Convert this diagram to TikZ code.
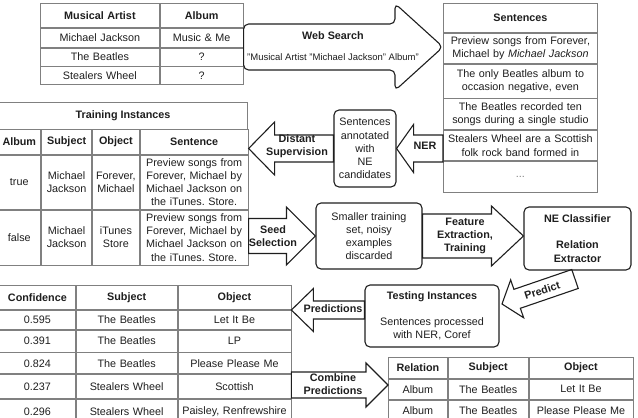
\documentclass[tikz,border=0pt]{standalone}
\usepackage{fontspec}
\setmainfont{Liberation Sans}
\usepackage{xcolor}
\usepackage{tikz}
\usetikzlibrary{calc, matrix, positioning}
\definecolor{gridgray}{RGB}{128,128,128}
\definecolor{ink}{RGB}{30,30,30}
\newcommand{\tabfont}{\fontsize{10.8}{13.2}\selectfont}
\frenchspacing

\begin{document}
\begin{tikzpicture}[
    x=1pt, y=-1pt,
    cell/.style={
      draw=gridgray, line width=0.8pt,
      inner xsep=2pt, inner ysep=1pt, outer sep=0pt,
      align=center, anchor=center,
      font=\tabfont, text=ink
    },
    head/.style={font=\tabfont\bfseries},
    grid/.style={
      matrix of nodes, inner sep=0pt, outer sep=0pt,
      column sep=0pt, row sep=0pt,
      nodes={cell}
    },
    box/.style={
      rectangle, rounded corners=5pt,
      draw=ink, line width=1.1pt,
      align=center, inner sep=2pt,
      font=\tabfont, text=ink
    },
    fat/.style args={#1/#2/#3}{
      to path={
        ($(\tikztostart)!#1!90:(\tikztotarget)$)
        -- ($(\tikztotarget)!#3!(\tikztostart)!#1!90:(\tikztotarget)$)
        -- ($(\tikztotarget)!#3!(\tikztostart)!#2!90:(\tikztotarget)$)
        -- (\tikztotarget)
        -- ($(\tikztotarget)!#3!(\tikztostart)!#2!-90:(\tikztotarget)$)
        -- ($(\tikztotarget)!#3!(\tikztostart)!#1!-90:(\tikztotarget)$)
        -- ($(\tikztostart)!#1!-90:(\tikztotarget)$)
        -- cycle
      }
    },
    arrow/.style={draw=ink, line width=1.1pt, line join=miter},
    arrowlabel/.style={
      align=center, inner sep=0pt,
      font=\tabfont\bfseries, text=ink
    }
  ]
  \useasboundingbox (0,0) rectangle (638,418);

  \matrix (artists) [grid, anchor=north west,
      column 1/.style={nodes={text width=115pt}},
      column 2/.style={nodes={text width=79pt}},
      row 1/.style={nodes={head, minimum height=24pt}},
      row 2/.style={nodes={minimum height=19pt}},
      row 3/.style={nodes={minimum height=18pt}},
      row 4/.style={nodes={minimum height=18pt}}] at (40,3) {
    Musical Artist  & Album \\
    Michael Jackson & Music \& Me \\
    The Beatles     & ? \\
    Stealers Wheel  & ? \\
  };

  \matrix (sentences) [grid, anchor=north west,
      nodes={text width=150pt},
      row 1/.style={nodes={head, minimum height=29pt}},
      row 2/.style={nodes={minimum height=30pt}},
      row 3/.style={nodes={minimum height=34pt}},
      row 4/.style={nodes={minimum height=31pt}},
      row 5/.style={nodes={minimum height=30pt}},
      row 6/.style={nodes={minimum height=31pt}}] at (443,3) {
    Sentences \\
    {Preview songs from Forever,\\Michael by \textit{Michael Jackson}} \\
    {The only Beatles album to\\occasion negative, even} \\
    {The Beatles recorded ten\\songs during a single studio} \\
    {Stealers Wheel are a Scottish\\folk rock band formed in} \\
    \textcolor{gridgray}{...} \\
  };

  \node[cell, head, minimum width=248pt, minimum height=27pt, anchor=north west]
    (traintitle) at (-1,102) {Training Instances};
  \matrix (training) [grid, below=0pt of traintitle,
      column 1/.style={nodes={text width=39pt}},
      column 2/.style={nodes={text width=46pt}},
      column 3/.style={nodes={text width=43pt}},
      column 4/.style={nodes={text width=104pt}},
      row 1/.style={nodes={head, minimum height=25pt}},
      row 2/.style={nodes={minimum height=54pt}},
      row 3/.style={nodes={minimum height=55pt}}] {
    Album & Subject & Object & Sentence \\
    true  & {Michael\\Jackson} & {Forever,\\Michael}
          & {Preview songs from\\Forever, Michael by\\Michael Jackson on\\the iTunes. Store.} \\
    false & {Michael\\Jackson} & {iTunes\\Store}
          & {Preview songs from\\Forever, Michael by\\Michael Jackson on\\the iTunes. Store.} \\
  };

  \matrix (conf) [grid, anchor=north west,
      column 1/.style={nodes={text width=72pt}},
      column 2/.style={nodes={text width=97pt}},
      column 3/.style={nodes={text width=109pt}},
      row 1/.style={nodes={head, minimum height=24pt}},
      row 2/.style={nodes={minimum height=19pt}},
      row 3/.style={nodes={minimum height=22pt}},
      row 4/.style={nodes={minimum height=21pt}},
      row 5/.style={nodes={minimum height=24pt}},
      row 6/.style={nodes={minimum height=24pt}}] at (-1,285) {
    Confidence & Subject & Object \\
    0.595 & The Beatles & Let It Be \\
    0.391 & The Beatles & LP \\
    0.824 & The Beatles & Please Please Me \\
    0.237 & Stealers Wheel & Scottish \\
    0.296 & Stealers Wheel & Paisley, Renfrewshire \\
  };

  \matrix (relation) [grid, anchor=north west,
      column 1/.style={nodes={text width=55pt}},
      column 2/.style={nodes={text width=76pt}},
      column 3/.style={nodes={text width=100pt}},
      row 1/.style={nodes={head, minimum height=21pt}},
      row 2/.style={nodes={minimum height=20pt}},
      row 3/.style={nodes={minimum height=21pt}}] at (388,357) {
    Relation & Subject & Object \\
    Album & The Beatles & Let It Be \\
    Album & The Beatles & Please Please Me \\
  };

  \node[box, minimum width=62pt, minimum height=77pt] (ann) at (365,148.5)
    {Sentences\\annotated\\with\\NE\\candidates};
  \node[box, minimum width=106pt, minimum height=66pt] (seedset) at (369,236)
    {Smaller training\\set, noisy\\examples\\discarded};
  \node[box, minimum width=107pt, minimum height=63pt] (clf) at (577.5,238.5)
    {\textbf{NE Classifier}\\[13pt]\textbf{Relation}\\\textbf{Extractor}};
  \node[box, minimum width=134pt, minimum height=62pt] (test) at (432,316)
    {\textbf{Testing Instances}\\[13pt]Sentences processed\\with NER, Coref};

  \coordinate (predtail) at (575,279);
  \coordinate (predtip) at (502,304);

  \draw[arrow, rounded corners=5pt] (artists.east |- 0,47)
    to[fat=23pt/43.5pt/48pt] (sentences.west |- 0,47);
  \draw[arrow] (sentences.west |- ann.east) to[fat=13.5pt/24pt/17pt] (ann.east);
  \draw[arrow] (ann.west) to[fat=13.5pt/26.5pt/26pt] (training.east |- ann.west);
  \draw[arrow] (training.east |- seedset.west) to[fat=17.5pt/29pt/29pt] (seedset.west);
  \draw[arrow] (seedset.east) to[fat=22pt/30pt/32pt] (clf.west |- seedset.east);
  \draw[arrow] (predtail) to[fat=10pt/20pt/16pt] (predtip);
  \draw[arrow] (test.west |- 0,310) to[fat=9pt/21.5pt/22pt] (conf.east |- 0,310);
  \draw[arrow] (conf.east |- 0,385) to[fat=13pt/22pt/22pt] (relation.west |- 0,385);

  \node[arrowlabel] (wslabel) at (333,46)
    {Web Search\\[8pt]{\fontsize{9.5}{11}\selectfont\mdseries "Musical Artist "Michael Jackson" Album"}};
  \node[arrowlabel] (nerlabel) at (425,146) {NER};
  \node[arrowlabel] (dslabel) at (297,146) {Distant\\Supervision};
  \node[arrowlabel] (seedlabel) at (273,236) {Seed\\Selection};
  \node[arrowlabel] (featlabel) at (465,236) {Feature\\Extraction,\\Training};
  \node[arrowlabel, rotate=18] (predlabel) at ($(predtail)!0.45!(predtip)$) {Predict};
  \node[arrowlabel] (predslabel) at (333,309) {Predictions};
  \node[arrowlabel] (comblabel) at (333,384) {Combine\\Predictions};
\end{tikzpicture}
\end{document}
